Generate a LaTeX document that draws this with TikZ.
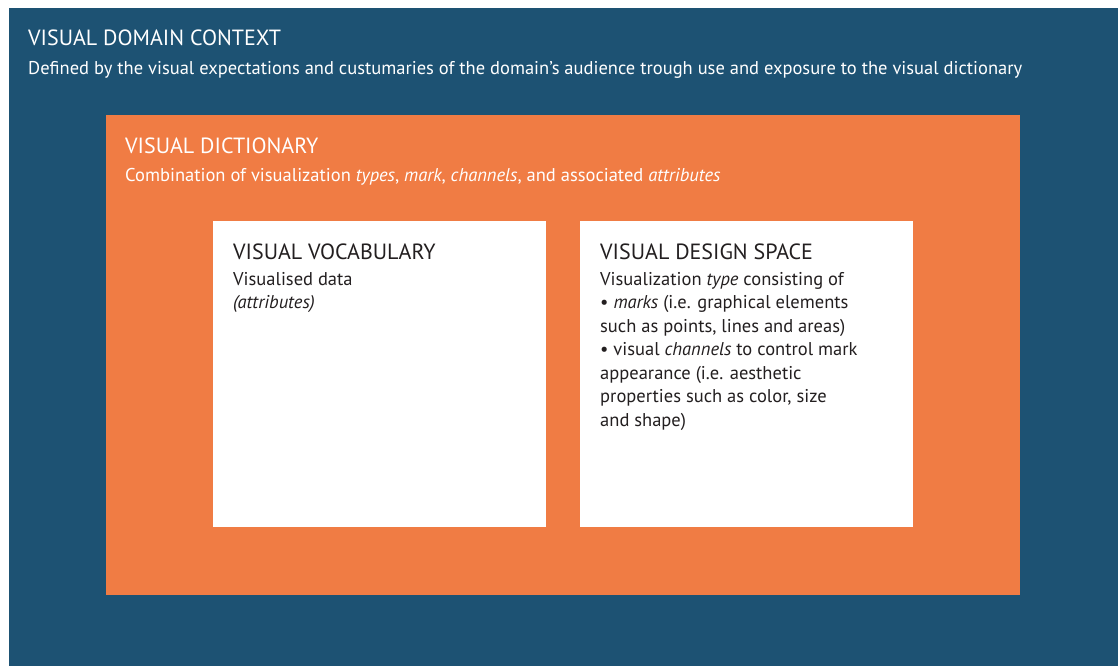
\documentclass[tikz,border=0pt]{standalone}
\usepackage{fontspec}
\setmainfont{PT Sans}
\usepackage{tikz}
\usetikzlibrary{positioning}
\definecolor{domainblue}{HTML}{1D5273}
\definecolor{dictorange}{HTML}{F07C44}
\definecolor{inktext}{HTML}{231F20}
\newcommand\toplines[1]{\parbox[t]{320pt}{\raggedright #1}}

\begin{document}
\begin{tikzpicture}[x=1pt,y=-1pt,
    area/.style={inner sep=0pt, outer sep=0pt, anchor=north west},
    heading/.style={anchor=base west, inner sep=0pt, font=\fontsize{22}{26}\selectfont},
    blurb/.style={anchor=base west, inner sep=0pt, font=\fontsize{18.5}{23.5}\selectfont}]
            \useasboundingbox (0,0) rectangle (1118,666);
            \node[area, fill=domainblue, minimum width=1109pt, minimum height=658pt] (context) at (9,8) {};
            \node[area, fill=dictorange, minimum width=914pt, minimum height=480pt] (dict) at (106,115) {};
            \node[area, fill=white, minimum width=333pt, minimum height=306pt] (vocab) at (213,221) {};
            \node[area, fill=white, minimum width=333pt, minimum height=306pt] (design) at (580,221) {};
            \node[heading, text=white] (contexthead) at ([xshift=19pt,yshift=-38pt]context.north west) {VISUAL DOMAIN CONTEXT};
            \node[blurb, text=white] (contextbody) at ([xshift=19pt,yshift=-67pt]context.north west) {Defined by the visual expectations and custumaries of the domain’s audience trough use and exposure to the visual dictionary};
            \node[heading, text=white] (dicthead) at ([xshift=19pt,yshift=-38pt]dict.north west) {VISUAL DICTIONARY};
            \node[blurb, text=white] (dictbody) at ([xshift=19pt,yshift=-66pt]dict.north west) {Combination of visualization \textit{types}, \textit{mark}, \textit{channels}, and associated \textit{attributes}};
            \node[heading, text=inktext] (vocabhead) at ([xshift=20pt,yshift=-38pt]vocab.north west) {VISUAL VOCABULARY};
            \node[blurb, text=inktext] (vocabbody) at ([xshift=20pt,yshift=-64pt]vocab.north west) {\toplines{Visualised data\\ \textit{(attributes)}}};
            \node[heading, text=inktext] (designhead) at ([xshift=20pt,yshift=-38pt]design.north west) {VISUAL DESIGN SPACE};
            \node[blurb, text=inktext] (designbody) at ([xshift=20pt,yshift=-64pt]design.north west) {\toplines{Visualization \textit{type} consisting of\\
            \textbullet\ \textit{marks} (i.e. graphical elements\\
            such as points, lines and areas)\\
            \textbullet\ visual \textit{channels} to control mark\\
            appearance (i.e. aesthetic\\
            properties such as color, size\\
            and shape)}};
        \end{tikzpicture}
\end{document}
